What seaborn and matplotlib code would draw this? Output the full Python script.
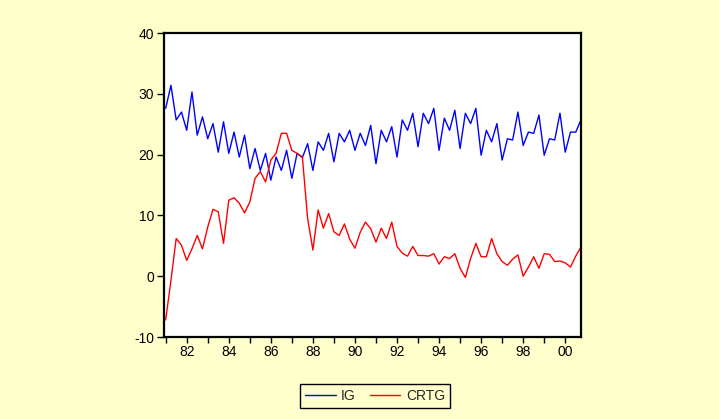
import numpy as np
import pandas as pd
import matplotlib
matplotlib.use("Agg")
import matplotlib.pyplot as plt
import seaborn as sns
from matplotlib.lines import Line2D

# Quarterly data 1981Q1 - 2000Q4
start_year = 1981
ig = [27.6, 31.4, 25.7, 27.0, 24.0, 30.3, 23.2, 26.2, 22.6, 25.1,
      20.4, 25.4, 20.2, 23.7, 19.6, 23.2, 17.7, 21.0, 17.4, 20.2,
      15.8, 19.6, 17.4, 20.7, 16.1, 20.2, 19.5, 21.8, 17.4, 22.1,
      20.7, 23.5, 18.8, 23.5, 22.1, 24.0, 20.7, 23.5, 21.5, 24.8,
      18.5, 24.0, 22.1, 24.6, 19.6, 25.7, 24.0, 26.8, 21.3, 26.8,
      25.1, 27.6, 20.7, 26.0, 24.0, 27.3, 21.0, 26.8, 25.1, 27.6,
      19.9, 24.0, 22.1, 25.1, 19.1, 22.6, 22.4, 27.0, 21.5, 23.7,
      23.5, 26.5, 19.9, 22.6, 22.4, 26.8, 20.4, 23.7, 23.7, 25.7]
crtg = [-7.2, -0.7, 6.2, 5.1, 2.6, 4.5, 6.7, 4.5, 8.1, 11.0,
        10.6, 5.4, 12.5, 12.9, 12.0, 10.4, 12.2, 16.1, 17.2, 15.5,
        19.1, 20.2, 23.5, 23.5, 20.7, 20.2, 19.6, 9.5, 4.3, 10.9,
        7.9, 10.3, 7.3, 6.7, 8.6, 6.1, 4.6, 7.2, 8.9, 7.8,
        5.6, 7.9, 6.2, 8.9, 4.9, 3.8, 3.3, 4.9, 3.4, 3.4,
        3.3, 3.7, 2.0, 3.2, 2.9, 3.7, 1.3, -0.2, 2.9, 5.4,
        3.2, 3.2, 6.2, 3.7, 2.4, 1.8, 2.8, 3.5, 0.0, 1.5,
        3.2, 1.3, 3.7, 3.6, 2.4, 2.5, 2.2, 1.5, 3.3, 4.8]
series_names = ["IG", "CRTG"]
series_colors = ["#0000FF", "#FF0000"]
year_ticks = list(range(1981, 2001))
year_labels = [f"{y % 100:02d}" if y % 2 == 0 else "" for y in year_ticks]
y_ticks = [-10, 0, 10, 20, 30, 40]

t = start_year + np.arange(len(ig)) / 4.0
df = pd.DataFrame({"t": np.concatenate([t, t]),
                   "value": ig + crtg,
                   "series": ["IG"] * len(ig) + ["CRTG"] * len(crtg)})

sns.set_style("white")
plt.rcParams["font.family"] = ["Liberation Sans", "DejaVu Sans"]
plt.rcParams["axes.unicode_minus"] = False

bg = "#FFFFCC"
fig = plt.figure(figsize=(7.19, 4.19), dpi=100, facecolor=bg)
ax = fig.add_axes([164/719, 1 - 337/419, (581-164)/719, (337-33)/419])
ax.set_facecolor("white")

sns.lineplot(data=df, x="t", y="value", hue="series", hue_order=series_names,
             palette=series_colors, linewidth=1.0, ax=ax, legend=False)

ax.set_xlim(1980.92, 2000.75)
ax.set_ylim(-10, 40)
ax.set_xticks(year_ticks)
ax.set_xticklabels(year_labels)
ax.set_yticks(y_ticks)
ax.set_xlabel("")
ax.set_ylabel("")
for s in ax.spines.values():
    s.set_color("black")
    s.set_linewidth(1.6)
ax.tick_params(axis="both", direction="out", length=4, width=1.0,
               colors="black", labelsize=10, pad=2,
               bottom=True, left=True, top=False, right=False)
ax.tick_params(axis="y", length=5)

handles = [Line2D([0], [0], color=c, lw=1.0) for c in series_colors]
leg = fig.legend(handles, series_names, loc="center", ncol=2,
                 bbox_to_anchor=(375/719, 1 - 396/419),
                 frameon=True, fancybox=False, fontsize=10,
                 handlelength=2.2, handletextpad=0.4, columnspacing=1.0,
                 borderpad=0.35, borderaxespad=0, edgecolor="black",
                 facecolor=bg, framealpha=1)
leg.get_frame().set_linewidth(1.0)

fig.savefig("out.png", dpi=100, facecolor=bg)
